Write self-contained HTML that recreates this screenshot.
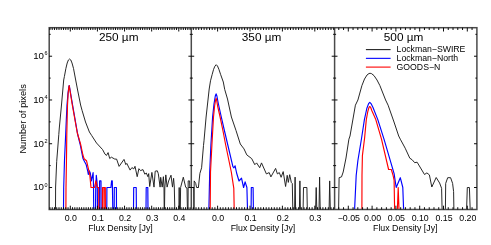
<!DOCTYPE html>
<html><head><meta charset="utf-8"><title>Flux density histograms</title>
<style>
html,body{margin:0;padding:0;background:#fff;}
body{width:491px;height:245px;overflow:hidden;position:relative;font-family:"Liberation Sans", sans-serif;}
</style></head><body>
<svg width="491" height="245" viewBox="0 0 491 245" style="position:absolute;left:0;top:0;display:block;will-change:transform">
<rect x="0" y="0" width="491" height="245" fill="#fff"/>
<polyline points="55.5,209.5 55.6,187.0 56.7,161.4 57.6,150.0 58.8,134.4 59.3,128.0 61.4,106.0 63.7,80.0 64.4,76.5 65.9,68.4 67.2,63.0 68.4,60.0 69.6,59.0 70.8,60.0 72.0,63.0 73.5,68.4 75.3,78.0 77.6,90.0 80.6,105.0 82.1,110.5 85.5,122.0 89.4,132.0 91.6,135.4 96.5,143.0 102.6,149.6 105.0,154.2 106.5,155.4 108.1,152.6 109.7,158.5 111.4,157.2 114.8,159.1 116.6,159.1 119.1,166.4 124.0,159.4 125.8,164.6 126.8,163.4 130.1,170.1 131.9,167.6 133.8,168.9 135.0,166.3 137.2,176.7 138.9,168.7 140.5,170.6 143.0,169.6 144.8,174.2 146.3,173.0 147.9,176.7 148.7,173.6 149.7,186.5 151.9,172.4 154.0,187.1 155.2,171.2 157.3,170.8 158.3,173.6 160.1,187.1 160.7,177.3 162.2,187.1 163.4,176.7 164.0,188.0 164.2,209.5 164.5,209.5 164.8,188.0 165.8,174.9 167.1,187.1 168.6,181.0 171.0,175.2 172.5,187.1 173.6,178.3 174.3,187.0 174.8,209.5 178.9,209.5 179.2,187.5 179.5,209.5 180.3,209.5 180.6,187.5 183.3,177.2 185.7,187.3 187.0,188.0 187.4,209.5 188.0,209.5 188.2,180.9 189.6,180.9 189.8,187.5 193.7,187.5 193.9,209.5 194.0,209.5 194.2,180.9 195.7,183.4 196.6,187.5 198.4,187.5" fill="none" stroke="#1c1c1c" stroke-width="0.95" stroke-linejoin="round" stroke-linecap="butt"/>
<polyline points="197.0,187.5 198.4,187.5 199.9,173.4 201.6,167.8 203.5,145.4 204.0,140.8 206.1,117.0 209.2,89.0 210.5,80.8 212.1,74.7 213.6,69.3 214.9,66.2 216.2,64.7 217.5,66.0 218.9,69.3 220.7,74.7 223.3,82.0 224.7,89.4 227.5,99.0 231.4,117.0 236.0,130.5 240.3,144.0 244.0,148.9 246.8,154.9 251.7,158.6 254.8,164.7 256.6,162.9 259.7,167.7 261.5,162.9 266.4,173.9 269.2,172.6 270.9,176.9 275.6,168.4 277.4,173.9 279.3,172.6 281.1,177.3 283.2,171.6 285.6,186.5 287.2,175.3 288.3,182.4 289.7,174.7 291.3,182.4 292.3,183.5 292.8,209.5 294.6,209.5 295.1,177.1 295.6,209.5 299.4,209.5 299.9,180.9 300.4,209.5 303.1,209.5 303.5,187.5 306.9,187.5 307.3,209.5 315.6,209.5 316.2,187.5 316.8,209.5 319.0,209.5 319.6,177.1 320.2,209.5 329.1,209.5 329.7,180.9 330.3,209.5" fill="none" stroke="#1c1c1c" stroke-width="0.95" stroke-linejoin="round" stroke-linecap="butt"/>
<polyline points="338.6,209.5 339.1,177.7 341.5,176.9 343.2,172.0 346.0,158.0 348.9,139.2 350.0,136.0 355.4,105.2 357.9,100.0 361.9,85.6 364.5,79.0 367.0,75.0 369.0,73.5 370.1,73.3 371.5,73.6 374.0,75.6 377.0,80.0 379.9,85.6 385.6,100.0 388.1,105.2 394.0,122.0 398.7,136.0 400.3,139.2 405.2,148.2 409.8,158.2 412.2,159.8 414.7,162.7 417.1,162.2 424.5,174.5 426.9,172.9 429.4,174.9 431.8,187.0 436.2,177.5 439.6,183.0 441.6,188.3 442.1,209.5 445.4,209.5 445.7,183.4 447.7,177.7 450.6,177.7 452.6,183.4 453.6,191.6 453.9,209.5 466.6,209.5 467.3,187.5 469.4,187.5 470.2,209.5" fill="none" stroke="#1c1c1c" stroke-width="0.95" stroke-linejoin="round" stroke-linecap="butt"/>
<polyline points="63.5,209.5 63.7,187.4 64.5,160.0 65.7,134.0 66.3,120.0 67.0,105.0 68.0,93.0 69.0,85.9 69.3,85.6 70.2,91.0 72.6,105.0 77.6,134.0 80.2,144.5 83.0,158.6 83.7,159.9 86.1,164.4 87.8,171.3 88.3,174.5 89.4,170.9 90.3,173.0 91.4,181.0 93.1,172.5 93.5,185.0 93.7,209.5 95.5,209.5 95.7,190.0 96.3,175.3 97.0,181.5 97.3,187.5 97.5,209.5 99.5,209.5 99.6,180.9 101.0,180.9 101.1,209.5 106.8,209.5 106.9,187.5 110.9,187.5 111.6,180.9 112.3,180.9 112.8,209.5 114.2,209.5 114.3,187.5 116.4,187.5 116.5,209.5 133.5,209.5 133.7,187.5 136.2,187.5 136.4,209.5 146.0,209.5 146.2,187.5 147.8,187.5 148.0,209.5" fill="none" stroke="#0000ff" stroke-width="1.15" stroke-linejoin="round" stroke-linecap="butt"/>
<polyline points="208.9,209.5 209.7,172.0 210.9,145.0 212.6,117.0 214.0,104.0 215.3,96.0 216.1,93.9 216.9,96.0 218.2,103.0 221.3,117.0 224.5,131.0 227.8,145.0 232.9,166.6 233.9,167.8 235.1,165.8 236.6,173.0 239.0,181.0 241.5,178.2 243.6,187.5 245.1,181.8 246.9,187.5 247.5,209.5 251.1,209.5 251.3,187.5 253.1,187.5 253.4,209.5" fill="none" stroke="#0000ff" stroke-width="1.15" stroke-linejoin="round" stroke-linecap="butt"/>
<polyline points="354.6,209.5 356.2,175.2 357.9,160.5 361.6,138.0 364.4,119.6 366.8,108.5 368.6,103.6 369.8,102.3 371.0,103.6 373.0,107.5 377.8,119.6 384.0,139.2 394.1,173.6 396.2,187.5 400.3,177.7 402.8,187.5 403.6,209.5" fill="none" stroke="#0000ff" stroke-width="1.15" stroke-linejoin="round" stroke-linecap="butt"/>
<polyline points="65.9,209.5 66.0,187.4 66.5,158.0 66.8,134.0 67.5,105.0 68.2,93.0 69.0,86.2 69.2,85.6 69.9,90.0 72.3,105.0 77.3,133.0 80.6,144.2 82.9,155.0 84.1,158.7 86.5,160.7 89.0,171.3 89.8,175.0 91.0,187.5 94.5,187.5 95.9,180.9 97.4,187.5 98.7,187.5 98.8,209.5 102.4,209.5 102.5,187.5 103.9,187.5 104.0,209.5 104.1,187.5 105.3,187.5 105.4,209.5" fill="none" stroke="#ff0000" stroke-width="1.15" stroke-linejoin="round" stroke-linecap="butt"/>
<polyline points="210.2,209.5 210.5,172.0 211.9,145.0 213.5,117.0 214.6,106.0 215.6,100.0 216.1,98.4 216.6,100.0 217.6,106.0 220.1,117.0 223.0,131.0 225.7,145.0 231.3,172.0 233.8,188.3 234.2,209.5" fill="none" stroke="#ff0000" stroke-width="1.15" stroke-linejoin="round" stroke-linecap="butt"/>
<polyline points="361.9,209.5 362.0,175.2 362.4,155.6 364.6,138.0 366.3,119.6 367.8,111.5 369.0,107.3 369.8,106.5 370.6,107.3 372.0,111.0 375.8,119.6 381.5,139.2 388.6,169.5 391.3,169.5 393.0,175.2 394.1,180.2 394.6,209.5 397.4,209.5 398.2,187.5 399.0,209.5" fill="none" stroke="#ff0000" stroke-width="1.15" stroke-linejoin="round" stroke-linecap="butt"/>
<g stroke="#4a4a4a" stroke-width="1.5" fill="none" shape-rendering="auto">
<rect x="49.2" y="27.7" width="427.7" height="181.8"/>
<line x1="191.3" y1="27.7" x2="191.3" y2="209.5"/>
<line x1="334.6" y1="27.7" x2="334.6" y2="209.5"/>
</g>
<path d="M49.96 209.5 v-2.3 M49.96 27.7 v2.3 M52.22 209.5 v-2.3 M52.22 27.7 v2.3 M54.48 209.5 v-2.3 M54.48 27.7 v2.3 M56.74 209.5 v-2.3 M56.74 27.7 v2.3 M59.00 209.5 v-2.3 M59.00 27.7 v2.3 M61.26 209.5 v-2.3 M61.26 27.7 v2.3 M63.52 209.5 v-2.3 M63.52 27.7 v2.3 M65.78 209.5 v-2.3 M65.78 27.7 v2.3 M68.04 209.5 v-2.3 M68.04 27.7 v2.3 M70.30 209.5 v-3.8 M70.30 27.7 v3.8 M72.56 209.5 v-2.3 M72.56 27.7 v2.3 M74.82 209.5 v-2.3 M74.82 27.7 v2.3 M77.08 209.5 v-2.3 M77.08 27.7 v2.3 M79.34 209.5 v-2.3 M79.34 27.7 v2.3 M81.60 209.5 v-2.3 M81.60 27.7 v2.3 M83.86 209.5 v-2.3 M83.86 27.7 v2.3 M86.12 209.5 v-2.3 M86.12 27.7 v2.3 M88.38 209.5 v-2.3 M88.38 27.7 v2.3 M90.64 209.5 v-2.3 M90.64 27.7 v2.3 M92.90 209.5 v-2.3 M92.90 27.7 v2.3 M95.16 209.5 v-2.3 M95.16 27.7 v2.3 M97.42 209.5 v-3.8 M97.42 27.7 v3.8 M99.68 209.5 v-2.3 M99.68 27.7 v2.3 M101.94 209.5 v-2.3 M101.94 27.7 v2.3 M104.20 209.5 v-2.3 M104.20 27.7 v2.3 M106.46 209.5 v-2.3 M106.46 27.7 v2.3 M108.72 209.5 v-2.3 M108.72 27.7 v2.3 M110.98 209.5 v-2.3 M110.98 27.7 v2.3 M113.24 209.5 v-2.3 M113.24 27.7 v2.3 M115.50 209.5 v-2.3 M115.50 27.7 v2.3 M117.76 209.5 v-2.3 M117.76 27.7 v2.3 M120.02 209.5 v-2.3 M120.02 27.7 v2.3 M122.28 209.5 v-2.3 M122.28 27.7 v2.3 M124.54 209.5 v-3.8 M124.54 27.7 v3.8 M126.80 209.5 v-2.3 M126.80 27.7 v2.3 M129.06 209.5 v-2.3 M129.06 27.7 v2.3 M131.32 209.5 v-2.3 M131.32 27.7 v2.3 M133.58 209.5 v-2.3 M133.58 27.7 v2.3 M135.84 209.5 v-2.3 M135.84 27.7 v2.3 M138.10 209.5 v-2.3 M138.10 27.7 v2.3 M140.36 209.5 v-2.3 M140.36 27.7 v2.3 M142.62 209.5 v-2.3 M142.62 27.7 v2.3 M144.88 209.5 v-2.3 M144.88 27.7 v2.3 M147.14 209.5 v-2.3 M147.14 27.7 v2.3 M149.40 209.5 v-2.3 M149.40 27.7 v2.3 M151.66 209.5 v-3.8 M151.66 27.7 v3.8 M153.92 209.5 v-2.3 M153.92 27.7 v2.3 M156.18 209.5 v-2.3 M156.18 27.7 v2.3 M158.44 209.5 v-2.3 M158.44 27.7 v2.3 M160.70 209.5 v-2.3 M160.70 27.7 v2.3 M162.96 209.5 v-2.3 M162.96 27.7 v2.3 M165.22 209.5 v-2.3 M165.22 27.7 v2.3 M167.48 209.5 v-2.3 M167.48 27.7 v2.3 M169.74 209.5 v-2.3 M169.74 27.7 v2.3 M172.00 209.5 v-2.3 M172.00 27.7 v2.3 M174.26 209.5 v-2.3 M174.26 27.7 v2.3 M176.52 209.5 v-2.3 M176.52 27.7 v2.3 M178.78 209.5 v-3.8 M178.78 27.7 v3.8 M181.04 209.5 v-2.3 M181.04 27.7 v2.3 M183.30 209.5 v-2.3 M183.30 27.7 v2.3 M185.56 209.5 v-2.3 M185.56 27.7 v2.3 M187.82 209.5 v-2.3 M187.82 27.7 v2.3 M190.08 209.5 v-2.3 M190.08 27.7 v2.3 M193.30 209.5 v-2.3 M193.30 27.7 v2.3 M196.00 209.5 v-2.3 M196.00 27.7 v2.3 M198.70 209.5 v-2.3 M198.70 27.7 v2.3 M201.40 209.5 v-2.3 M201.40 27.7 v2.3 M204.10 209.5 v-2.3 M204.10 27.7 v2.3 M206.80 209.5 v-2.3 M206.80 27.7 v2.3 M209.50 209.5 v-2.3 M209.50 27.7 v2.3 M212.20 209.5 v-2.3 M212.20 27.7 v2.3 M214.90 209.5 v-2.3 M214.90 27.7 v2.3 M217.60 209.5 v-3.8 M217.60 27.7 v3.8 M220.30 209.5 v-2.3 M220.30 27.7 v2.3 M223.00 209.5 v-2.3 M223.00 27.7 v2.3 M225.70 209.5 v-2.3 M225.70 27.7 v2.3 M228.40 209.5 v-2.3 M228.40 27.7 v2.3 M231.10 209.5 v-2.3 M231.10 27.7 v2.3 M233.80 209.5 v-2.3 M233.80 27.7 v2.3 M236.50 209.5 v-2.3 M236.50 27.7 v2.3 M239.20 209.5 v-2.3 M239.20 27.7 v2.3 M241.90 209.5 v-2.3 M241.90 27.7 v2.3 M244.60 209.5 v-2.3 M244.60 27.7 v2.3 M247.30 209.5 v-2.3 M247.30 27.7 v2.3 M250.00 209.5 v-3.8 M250.00 27.7 v3.8 M252.70 209.5 v-2.3 M252.70 27.7 v2.3 M255.40 209.5 v-2.3 M255.40 27.7 v2.3 M258.10 209.5 v-2.3 M258.10 27.7 v2.3 M260.80 209.5 v-2.3 M260.80 27.7 v2.3 M263.50 209.5 v-2.3 M263.50 27.7 v2.3 M266.20 209.5 v-2.3 M266.20 27.7 v2.3 M268.90 209.5 v-2.3 M268.90 27.7 v2.3 M271.60 209.5 v-2.3 M271.60 27.7 v2.3 M274.30 209.5 v-2.3 M274.30 27.7 v2.3 M277.00 209.5 v-2.3 M277.00 27.7 v2.3 M279.70 209.5 v-2.3 M279.70 27.7 v2.3 M282.40 209.5 v-3.8 M282.40 27.7 v3.8 M285.10 209.5 v-2.3 M285.10 27.7 v2.3 M287.80 209.5 v-2.3 M287.80 27.7 v2.3 M290.50 209.5 v-2.3 M290.50 27.7 v2.3 M293.20 209.5 v-2.3 M293.20 27.7 v2.3 M295.90 209.5 v-2.3 M295.90 27.7 v2.3 M298.60 209.5 v-2.3 M298.60 27.7 v2.3 M301.30 209.5 v-2.3 M301.30 27.7 v2.3 M304.00 209.5 v-2.3 M304.00 27.7 v2.3 M306.70 209.5 v-2.3 M306.70 27.7 v2.3 M309.40 209.5 v-2.3 M309.40 27.7 v2.3 M312.10 209.5 v-2.3 M312.10 27.7 v2.3 M314.80 209.5 v-3.8 M314.80 27.7 v3.8 M317.50 209.5 v-2.3 M317.50 27.7 v2.3 M320.20 209.5 v-2.3 M320.20 27.7 v2.3 M322.90 209.5 v-2.3 M322.90 27.7 v2.3 M325.60 209.5 v-2.3 M325.60 27.7 v2.3 M328.30 209.5 v-2.3 M328.30 27.7 v2.3 M331.00 209.5 v-2.3 M331.00 27.7 v2.3 M333.70 209.5 v-2.3 M333.70 27.7 v2.3 M338.78 209.5 v-2.3 M338.78 27.7 v2.3 M343.54 209.5 v-2.3 M343.54 27.7 v2.3 M348.30 209.5 v-3.8 M348.30 27.7 v3.8 M353.06 209.5 v-2.3 M353.06 27.7 v2.3 M357.82 209.5 v-2.3 M357.82 27.7 v2.3 M362.58 209.5 v-2.3 M362.58 27.7 v2.3 M367.34 209.5 v-2.3 M367.34 27.7 v2.3 M372.10 209.5 v-3.8 M372.10 27.7 v3.8 M376.86 209.5 v-2.3 M376.86 27.7 v2.3 M381.62 209.5 v-2.3 M381.62 27.7 v2.3 M386.38 209.5 v-2.3 M386.38 27.7 v2.3 M391.14 209.5 v-2.3 M391.14 27.7 v2.3 M395.90 209.5 v-3.8 M395.90 27.7 v3.8 M400.66 209.5 v-2.3 M400.66 27.7 v2.3 M405.42 209.5 v-2.3 M405.42 27.7 v2.3 M410.18 209.5 v-2.3 M410.18 27.7 v2.3 M414.94 209.5 v-2.3 M414.94 27.7 v2.3 M419.70 209.5 v-3.8 M419.70 27.7 v3.8 M424.46 209.5 v-2.3 M424.46 27.7 v2.3 M429.22 209.5 v-2.3 M429.22 27.7 v2.3 M433.98 209.5 v-2.3 M433.98 27.7 v2.3 M438.74 209.5 v-2.3 M438.74 27.7 v2.3 M443.50 209.5 v-3.8 M443.50 27.7 v3.8 M448.26 209.5 v-2.3 M448.26 27.7 v2.3 M453.02 209.5 v-2.3 M453.02 27.7 v2.3 M457.78 209.5 v-2.3 M457.78 27.7 v2.3 M462.54 209.5 v-2.3 M462.54 27.7 v2.3 M467.30 209.5 v-3.8 M467.30 27.7 v3.8 M472.06 209.5 v-2.3 M472.06 27.7 v2.3 M49.2 187.50 h2.9 M191.3 187.50 h-2.9 M191.3 187.50 h2.9 M334.6 187.50 h-2.9 M334.6 187.50 h2.9 M476.9 187.50 h-2.9 M49.2 165.62 h1.5 M191.3 165.62 h-1.5 M191.3 165.62 h1.5 M334.6 165.62 h-1.5 M334.6 165.62 h1.5 M476.9 165.62 h-1.5 M49.2 143.74 h2.9 M191.3 143.74 h-2.9 M191.3 143.74 h2.9 M334.6 143.74 h-2.9 M334.6 143.74 h2.9 M476.9 143.74 h-2.9 M49.2 121.86 h1.5 M191.3 121.86 h-1.5 M191.3 121.86 h1.5 M334.6 121.86 h-1.5 M334.6 121.86 h1.5 M476.9 121.86 h-1.5 M49.2 99.98 h2.9 M191.3 99.98 h-2.9 M191.3 99.98 h2.9 M334.6 99.98 h-2.9 M334.6 99.98 h2.9 M476.9 99.98 h-2.9 M49.2 78.10 h1.5 M191.3 78.10 h-1.5 M191.3 78.10 h1.5 M334.6 78.10 h-1.5 M334.6 78.10 h1.5 M476.9 78.10 h-1.5 M49.2 56.22 h2.9 M191.3 56.22 h-2.9 M191.3 56.22 h2.9 M334.6 56.22 h-2.9 M334.6 56.22 h2.9 M476.9 56.22 h-2.9 M49.2 34.34 h1.5 M191.3 34.34 h-1.5 M191.3 34.34 h1.5 M334.6 34.34 h-1.5 M334.6 34.34 h1.5 M476.9 34.34 h-1.5" stroke="#000" stroke-width="0.95" fill="none"/>
<g font-family='"Liberation Sans", sans-serif' fill="#000">
<text x="70.8" y="220.9" font-size="8.8" text-anchor="middle">0.0</text>
<text x="97.9" y="220.9" font-size="8.8" text-anchor="middle">0.1</text>
<text x="125.0" y="220.9" font-size="8.8" text-anchor="middle">0.2</text>
<text x="152.2" y="220.9" font-size="8.8" text-anchor="middle">0.3</text>
<text x="179.3" y="220.9" font-size="8.8" text-anchor="middle">0.4</text>
<text x="218.1" y="220.9" font-size="8.8" text-anchor="middle">0.0</text>
<text x="250.5" y="220.9" font-size="8.8" text-anchor="middle">0.1</text>
<text x="282.9" y="220.9" font-size="8.8" text-anchor="middle">0.2</text>
<text x="315.3" y="220.9" font-size="8.8" text-anchor="middle">0.3</text>
<text x="348.8" y="220.9" font-size="8.8" text-anchor="middle">−0.05</text>
<text x="372.6" y="220.9" font-size="8.8" text-anchor="middle">0.00</text>
<text x="396.4" y="220.9" font-size="8.8" text-anchor="middle">0.05</text>
<text x="420.2" y="220.9" font-size="8.8" text-anchor="middle">0.10</text>
<text x="444.0" y="220.9" font-size="8.8" text-anchor="middle">0.15</text>
<text x="467.8" y="220.9" font-size="8.8" text-anchor="middle">0.20</text>
<text x="120.5" y="230.8" font-size="8.8" text-anchor="middle">Flux Density [Jy]</text>
<text x="263.0" y="230.8" font-size="8.8" text-anchor="middle">Flux Density [Jy]</text>
<text x="405.3" y="230.8" font-size="8.8" text-anchor="middle">Flux Density [Jy]</text>
<text x="33.2" y="190.4" font-size="9.7">10</text><text x="44.4" y="186.5" font-size="5.4">0</text>
<text x="33.2" y="146.6" font-size="9.7">10</text><text x="44.4" y="142.7" font-size="5.4">2</text>
<text x="33.2" y="102.9" font-size="9.7">10</text><text x="44.4" y="99.0" font-size="5.4">4</text>
<text x="33.2" y="59.1" font-size="9.7">10</text><text x="44.4" y="55.2" font-size="5.4">6</text>
<text transform="translate(25.9,118.9) rotate(-90)" font-size="9.25" text-anchor="middle">Number of pixels</text>
<text x="118.7" y="41.0" font-size="11.8" text-anchor="middle">250 µm</text>
<text x="261.6" y="41.0" font-size="11.8" text-anchor="middle">350 µm</text>
<text x="403.6" y="41.0" font-size="11.8" text-anchor="middle">500 µm</text>
<line x1="365.9" y1="49.60" x2="390.6" y2="49.60" stroke="#222" stroke-width="1.1"/>
<text x="396.6" y="52.20" font-size="8.7">Lockman−SWIRE</text>
<line x1="365.9" y1="58.35" x2="390.6" y2="58.35" stroke="#0000ff" stroke-width="1.1"/>
<text x="396.6" y="60.95" font-size="8.7">Lockman−North</text>
<line x1="365.9" y1="67.10" x2="390.6" y2="67.10" stroke="#ff0000" stroke-width="1.1"/>
<text x="396.6" y="69.70" font-size="8.7">GOODS−N</text>
</g>
</svg>
</body></html>
